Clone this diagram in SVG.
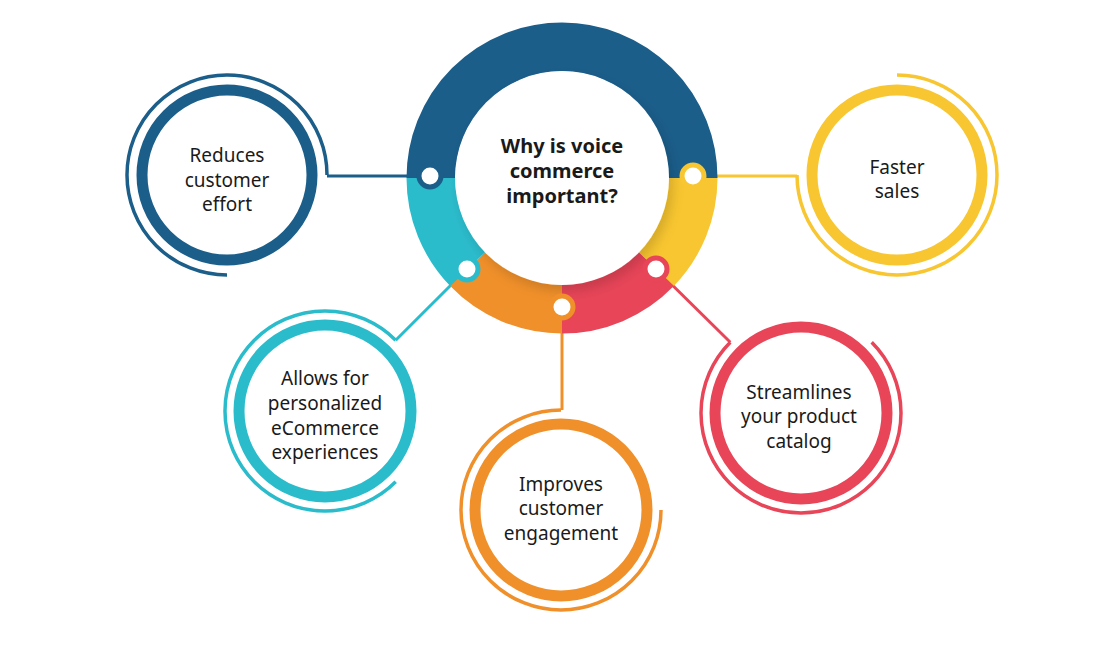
<svg xmlns="http://www.w3.org/2000/svg" width="1120" height="645" viewBox="0 0 1120 645">
<style>
.t{font-family:"Noto Sans","Liberation Sans",sans-serif;font-size:19px;fill:#1a1a1a;text-anchor:middle}
.c{font-family:"Noto Sans","Liberation Sans",sans-serif;font-size:20px;font-weight:bold;fill:#1a1a1a;text-anchor:middle}
.ring{fill:#fff;stroke-width:11}
.arc{fill:none;stroke-width:3.5}
.seg{fill:none;stroke-width:49}
.dot{fill:#fff;stroke-width:5}
</style>
<defs>
<filter id="sh" x="-20%" y="-20%" width="140%" height="140%"><feDropShadow dx="4" dy="6" stdDeviation="6" flood-color="#000" flood-opacity="0.15"/></filter>
</defs>
<rect width="1120" height="645" fill="#fff"/>
<g id="connectors" stroke-width="3" fill="none">
<path d="M431 176H327" stroke="#1b5e8a"/>
<path d="M693 176H797" stroke="#f8c630"/>
<path d="M467 269L395.7 340.3" stroke="#2bbccc"/>
<path d="M562 309V410" stroke="#f0902a"/>
<path d="M656 269L730.3 342.3" stroke="#e84558"/>
</g>
<g id="center">
<path class="seg" stroke="#1b5e8a" d="M431 178A131 131 0 0 1 693 178"/>
<path class="seg" stroke="#f8c630" d="M693 178A131 131 0 0 1 656.2 269"/>
<path class="seg" stroke="#e84558" d="M656.2 269A131 131 0 0 1 562 309"/>
<path class="seg" stroke="#f0902a" d="M562 309A131 131 0 0 1 467.8 269"/>
<path class="seg" stroke="#2bbccc" d="M467.8 269A131 131 0 0 1 431 178"/>
<circle cx="562" cy="178" r="107" fill="#fff" filter="url(#sh)"/>
<circle class="dot" cx="430" cy="176" r="11" stroke="#1b5e8a"/>
<circle class="dot" cx="693" cy="176" r="11" stroke="#f8c630"/>
<circle class="dot" cx="467" cy="269" r="11" stroke="#2bbccc"/>
<circle class="dot" cx="562" cy="307" r="11" stroke="#f0902a"/>
<circle class="dot" cx="656" cy="269" r="11" stroke="#e84558"/>
<text class="c" x="562" y="153">Why is voice</text>
<text class="c" x="562" y="178">commerce</text>
<text class="c" x="562" y="203">important?</text>
</g>
<g id="n1">
<circle class="ring" cx="227" cy="175" r="85" stroke="#1b5e8a"/>
<path class="arc" stroke="#1b5e8a" d="M327 175A100 100 0 1 0 227 275"/>
<text class="t" x="227" y="162">Reduces</text>
<text class="t" x="227" y="187">customer</text>
<text class="t" x="227" y="211">effort</text>
</g>
<g id="n2">
<circle class="ring" cx="897" cy="175" r="85" stroke="#f8c630"/>
<path class="arc" stroke="#f8c630" d="M897 75A100 100 0 1 1 797 175"/>
<text class="t" x="897" y="174">Faster</text>
<text class="t" x="897" y="198">sales</text>
</g>
<g id="n3">
<circle class="ring" cx="325" cy="411" r="86" stroke="#2bbccc"/>
<path class="arc" stroke="#2bbccc" d="M395.7 340.3A100 100 0 1 0 395.7 481.7"/>
<text class="t" x="325" y="385">Allows for</text>
<text class="t" x="325" y="410">personalized</text>
<text class="t" x="325" y="435">eCommerce</text>
<text class="t" x="325" y="459">experiences</text>
</g>
<g id="n4">
<circle class="ring" cx="561" cy="510" r="86" stroke="#f0902a"/>
<path class="arc" stroke="#f0902a" d="M561 410A100 100 0 1 0 661 510"/>
<text class="t" x="561" y="491">Improves</text>
<text class="t" x="561" y="515">customer</text>
<text class="t" x="561" y="540">engagement</text>
</g>
<g id="n5">
<circle class="ring" cx="801" cy="413" r="86" stroke="#e84558"/>
<path class="arc" stroke="#e84558" d="M730.3 342.3A100 100 0 1 0 871.7 342.3"/>
<text class="t" x="799" y="399">Streamlines</text>
<text class="t" x="799" y="423">your product</text>
<text class="t" x="799" y="448">catalog</text>
</g>
</svg>
